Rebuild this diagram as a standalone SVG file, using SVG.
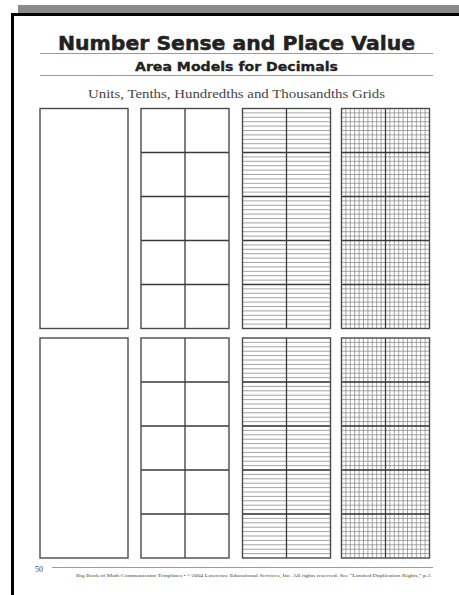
<svg xmlns="http://www.w3.org/2000/svg" xmlns:xlink="http://www.w3.org/1999/xlink" width="459" height="595" viewBox="0 0 459 595">
<style>
.title{font-family:"DejaVu Sans","Liberation Sans",sans-serif;font-weight:bold;fill:#222;stroke:#222}
.serif{font-family:"Liberation Serif","DejaVu Serif",serif;fill:#444}
.rule{stroke:#999;stroke-width:1;fill:none}
.outer{fill:none;stroke:#4a4a4a;stroke-width:1.4}
.thick{fill:none;stroke:#3a3a3a;stroke-width:1.3}
.hthin{fill:none;stroke:#9a9a9a;stroke-width:0.9}
.tthin{fill:none;stroke:#858585;stroke-width:0.75}
</style>
<defs>
<path id="hlines" d="M0 4.4h88m-88 4.4h88m-88 4.4h88m-88 4.4h88m-88 4.4h88m-88 4.4h88m-88 4.4h88m-88 4.4h88m-88 4.4h88m-88 4.4h88m-88 4.4h88m-88 4.4h88m-88 4.4h88m-88 4.4h88m-88 4.4h88m-88 4.4h88m-88 4.4h88m-88 4.4h88m-88 4.4h88m-88 4.4h88m-88 4.4h88m-88 4.4h88m-88 4.4h88m-88 4.4h88m-88 4.4h88m-88 4.4h88m-88 4.4h88m-88 4.4h88m-88 4.4h88m-88 4.4h88m-88 4.4h88m-88 4.4h88m-88 4.4h88m-88 4.4h88m-88 4.4h88m-88 4.4h88m-88 4.4h88m-88 4.4h88m-88 4.4h88m-88 4.4h88m-88 4.4h88m-88 4.4h88m-88 4.4h88m-88 4.4h88m-88 4.4h88m-88 4.4h88m-88 4.4h88m-88 4.4h88m-88 4.4h88"/>
<path id="vlines" d="M4.4 0v220m4.4-220v220m4.4-220v220m4.4-220v220m4.4-220v220m4.4-220v220m4.4-220v220m4.4-220v220m4.4-220v220m4.4-220v220m4.4-220v220m4.4-220v220m4.4-220v220m4.4-220v220m4.4-220v220m4.4-220v220m4.4-220v220m4.4-220v220m4.4-220v220"/>
<g id="unit"><rect class="outer" x="0" y="0" width="88" height="220"/></g>
<g id="tenthFrame">
<path class="thick" d="M44 0v220M0 44h88M0 88h88M0 132h88M0 176h88"/>
<rect class="outer" x="0" y="0" width="88" height="220"/>
</g>
<g id="hund">
<use xlink:href="#hlines" class="hthin"/>
<use xlink:href="#tenthFrame"/>
</g>
<g id="thou">
<use xlink:href="#hlines" class="tthin"/>
<use xlink:href="#vlines" class="tthin"/>
<use xlink:href="#tenthFrame"/>
</g>
</defs>
<rect width="459" height="595" fill="#fff"/>
<g id="frame">
<rect x="18" y="5" width="441" height="8" fill="#8a8a8a"/>
<rect x="11" y="13" width="448" height="3" fill="#000"/>
<rect x="11" y="13" width="3" height="582" fill="#000"/>
</g>
<g id="header">
<text class="title" x="236.5" y="50" font-size="20" stroke-width="0.5" text-anchor="middle" textLength="357" lengthAdjust="spacingAndGlyphs">Number Sense and Place Value</text>
<line class="rule" x1="40" y1="53.5" x2="433" y2="53.5"/>
<text class="title" x="236.5" y="71" font-size="11.5" stroke-width="0.3" text-anchor="middle" textLength="203" lengthAdjust="spacingAndGlyphs">Area Models for Decimals</text>
<line class="rule" x1="40" y1="75.5" x2="433" y2="75.5"/>
<text class="serif" x="236.5" y="98" font-size="13" text-anchor="middle" textLength="297" lengthAdjust="spacingAndGlyphs">Units, Tenths, Hundredths and Thousandths Grids</text>
</g>
<g id="units-top"><use xlink:href="#unit" x="40" y="108.5"/></g>
<g id="tenths-top"><use xlink:href="#tenthFrame" x="141" y="108.5"/></g>
<g id="hundredths-top"><use xlink:href="#hund" x="242.5" y="108.5"/></g>
<g id="thousandths-top"><use xlink:href="#thou" x="341.5" y="108.5"/></g>
<g id="units-bottom"><use xlink:href="#unit" x="40" y="338"/></g>
<g id="tenths-bottom"><use xlink:href="#tenthFrame" x="141" y="338"/></g>
<g id="hundredths-bottom"><use xlink:href="#hund" x="242.5" y="338"/></g>
<g id="thousandths-bottom"><use xlink:href="#thou" x="341.5" y="338"/></g>
<g id="footer">
<text class="serif" x="35" y="572" font-size="8">50</text>
<line class="rule" x1="52" y1="567.5" x2="433" y2="567.5"/>
<text class="serif" x="76" y="576.5" font-size="4.5" textLength="356" lengthAdjust="spacingAndGlyphs">Big Book of Math Communicator Templates • ©2004 Lawrence Educational Services, Inc. All rights reserved. See “Limited Duplication Rights,” p.2.</text>
</g>
</svg>
